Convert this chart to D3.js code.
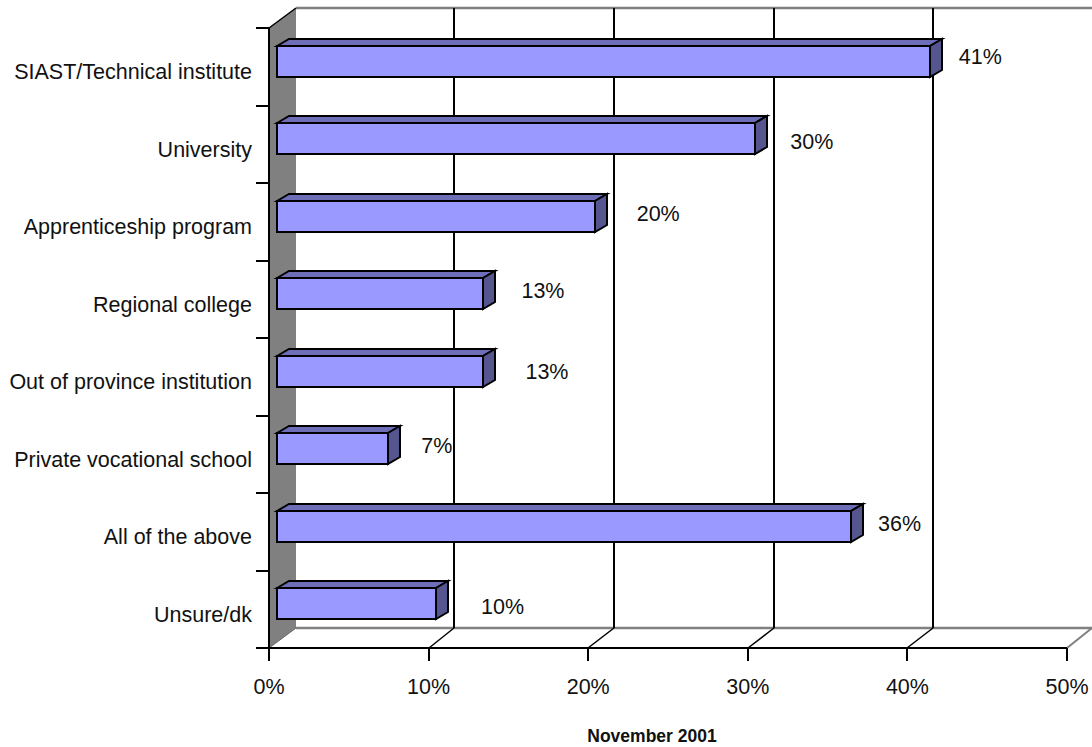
<!DOCTYPE html>
<html><head><meta charset="utf-8">
<script src="https://cdn.jsdelivr.net/npm/d3@7/dist/d3.min.js"></script>
<style>html,body{margin:0;background:#fff}svg{display:block}text{font-family:"Liberation Sans",Arial,sans-serif;fill:#111}</style>
</head><body><div id="c"></div>
<script>
const categories=["SIAST/Technical institute","University","Apprenticeship program","Regional college","Out of province institution","Private vocational school","All of the above","Unsure/dk"];
const values=[41,30,20,13,13,7,36,10];
const tickValues=[0,10,20,30,40,50];
const labelNudge=[[38,-5],[45,3],[51,-3],[47.5,-3],[51.5,0],[37,-3],[37,-3],[55,3]];
const W=1092,H=747,x0=269,x1=1067,yT=28,yB=648,dx=27,dy=-20,bx=8,bEnd=7,bdx=12,bdy=-7,fs=21.5,fsCat=21.5;
const svg=d3.select("#c").append("svg").attr("width",W).attr("height",H);
const x=d3.scaleLinear().domain([0,50]).range([x0,x1]);
const y=d3.scaleBand().domain(categories).range([yT,yB]);
const ln=(a,b,c,d,col,w)=>svg.append("line").attr("x1",a).attr("y1",b).attr("x2",c).attr("y2",d).attr("stroke",col).attr("stroke-width",w);
// wall
svg.append("polygon").attr("points",`${x0},${yT} ${x0+dx},${yT+dy} ${x0+dx},${yB+dy} ${x0},${yB}`).attr("fill","#808080");
ln(x0+dx,yT+dy,W,yT+dy,"#808080",2.5);
ln(x0+dx,yB+dy,W,yB+dy,"#808080",2.5);
ln(x0,yB,x0+dx,yB+dy,"#666",1);
tickValues.forEach(t=>{
  const gx=Math.round(x(t)+dx-1.3),tx=Math.round(x(t));
  if(t>0&&t<50) ln(gx,yT+dy,gx,yB+dy,"#000",2);
  if(t>0) ln(tx,yB,t<50?gx:W,yB+dy,t<50?"#000":"#808080",t<50?1.5:2);
  ln(tx,yB,tx,yB+13,"#000",2);
  svg.append("text").attr("x",x(t)).attr("y",694).attr("text-anchor","middle").attr("font-size",fs).text(t+"%");
});
ln(x0-13,yB,x1,yB,"#000",2);
ln(x0,yT,x0+dx,yT+dy,"#000",1.5);
ln(x0,yT,x0,yB,"#000",2);
categories.forEach((c,i)=>{const p=Math.round(y(c));ln(x0-13,p,x0,p,"#000",2);});
// bars
const bh=31;
categories.forEach((c,i)=>{
  const v=values[i],cy=y(c)+y.bandwidth()/2,t=Math.round(cy-21.25),l=x0+bx,r=Math.round(x(v)+bEnd);
  const g=svg.append("g").attr("stroke","#000").attr("stroke-width",2).attr("stroke-linejoin","miter");
  g.append("polygon").attr("points",`${l},${t} ${l+bdx},${t+bdy} ${r+bdx},${t+bdy} ${r},${t}`).attr("fill","#6E6EB8");
  g.append("polygon").attr("points",`${r},${t} ${r+bdx},${t+bdy} ${r+bdx},${t+bdy+bh} ${r},${t+bh}`).attr("fill","#555590");
  g.append("rect").attr("x",l).attr("y",t).attr("width",r-l).attr("height",bh).attr("fill","#9999FF");
  svg.append("text").attr("x",x(v)+19+labelNudge[i][0]).attr("y",cy-5.75+labelNudge[i][1]).attr("dy","0.35em").attr("text-anchor","middle").attr("font-size",fs).text(v+"%");
  svg.append("text").attr("x",252).attr("y",cy+5).attr("dy","0.35em").attr("text-anchor","end").attr("font-size",fsCat).text(c);
});
svg.append("text").attr("x",652).attr("y",742).attr("text-anchor","middle").attr("font-size",17.5).attr("font-weight","bold").text("November 2001");
</script></body></html>
